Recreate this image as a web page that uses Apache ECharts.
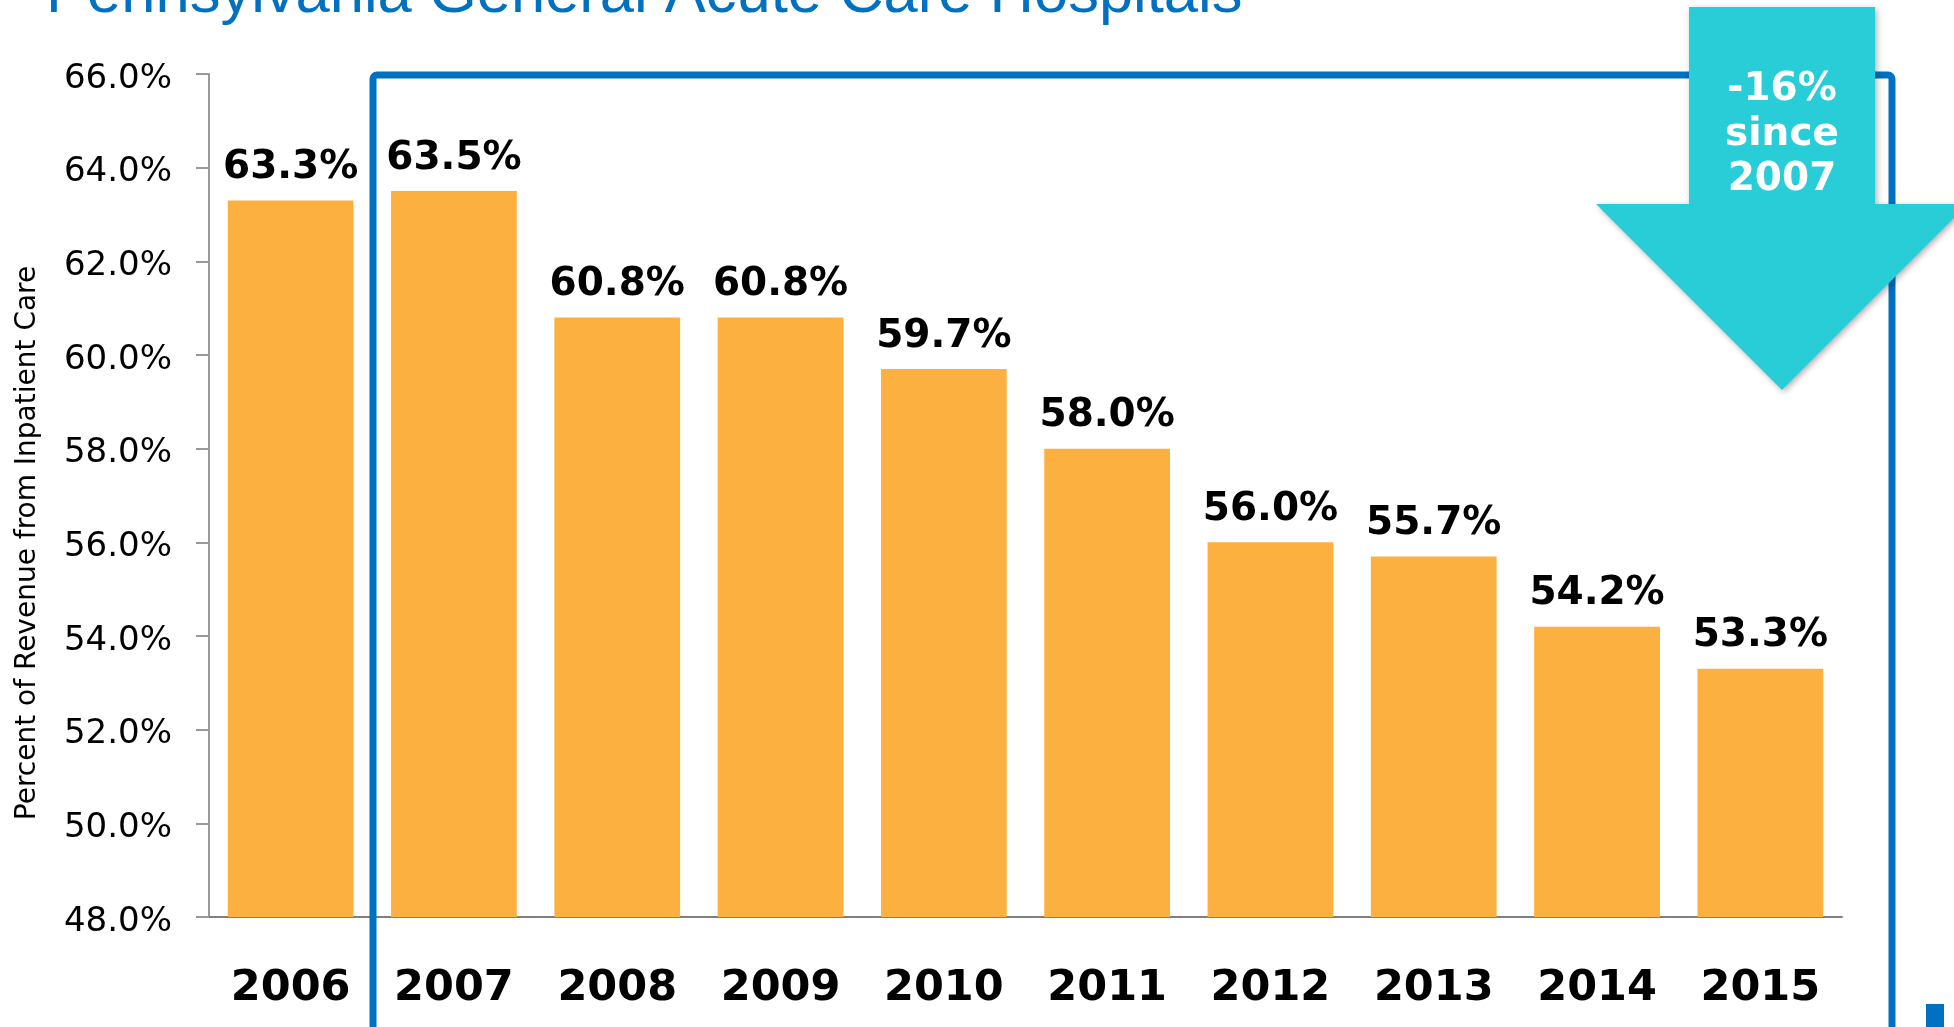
<!DOCTYPE html>
<html lang="en">
<head>
    <meta charset="UTF-8">
    <title>Inpatient revenue share</title>
    <script src="https://cdn.jsdelivr.net/npm/echarts@6/dist/echarts.min.js"></script>
    <style>
        html, body { margin: 0; padding: 0; background: #fff; }
        #main { width: 1954px; height: 1027px; }
    </style>
</head>
<body>
<div id="main"></div>
<script>
    var years = ['2006', '2007', '2008', '2009', '2010', '2011', '2012', '2013', '2014', '2015'];
    var inpatientShare = [63.3, 63.5, 60.8, 60.8, 59.7, 58.0, 56.0, 55.7, 54.2, 53.3];
    var yTicks = { min: 48, max: 66, step: 2 };

    var blue = '#0070C0';
    var teal = '#29CDD7';

    var myChart = echarts.init(document.getElementById('main'));
    var option = {
        animation: false,
        grid: { left: 209, right: 112, top: 74, bottom: 110 },
        xAxis: {
            type: 'category',
            data: years,
            axisLine: { lineStyle: { color: '#7f7f7f', width: 2 } },
            axisTick: { length: 15, lineStyle: { color: '#555', width: 2 } },
            axisLabel: {
                margin: 50,
                color: '#000',
                fontFamily: 'DejaVu Sans',
                fontWeight: 'bold',
                fontSize: 43
            }
        },
        yAxis: {
            type: 'value',
            min: yTicks.min,
            max: yTicks.max,
            interval: yTicks.step,
            splitLine: { show: false },
            axisLine: { show: true, lineStyle: { color: '#999', width: 2 } },
            axisTick: { show: true, length: 13, lineStyle: { color: '#999', width: 2 } },
            axisLabel: {
                margin: 37,
                verticalAlign: 'top',
                lineHeight: 10,
                color: '#000',
                fontFamily: 'DejaVu Sans',
                fontSize: 34,
                formatter: function (v) { return v.toFixed(1) + '%'; }
            }
        },
        series: [
            {
                type: 'bar',
                data: inpatientShare,
                barCategoryGap: '23%',
                itemStyle: { color: '#FBB040' },
                label: {
                    show: true,
                    position: 'top',
                    distance: 13,
                    color: '#000',
                    fontFamily: 'DejaVu Sans',
                    fontWeight: 'bold',
                    fontSize: 39,
                    formatter: function (p) { return p.value.toFixed(1) + '%'; }
                }
            }
        ],
        graphic: [
            {
                type: 'text',
                z: 10,
                style: {
                    text: 'Pennsylvania General Acute Care Hospitals',
                    x: 46, y: -5,
                    verticalAlign: 'middle',
                    font: '61.5px "Liberation Sans"',
                    fill: blue
                }
            },
            {
                type: 'text',
                z: 10,
                rotation: Math.PI / 2,
                x: 28, y: 543,
                style: {
                    text: 'Percent of Revenue from Inpatient Care',
                    align: 'center',
                    verticalAlign: 'middle',
                    font: '28px "DejaVu Sans"',
                    fill: '#000'
                }
            },
            {
                type: 'rect',
                z: 5,
                shape: { x: 373, y: 75, width: 1519, height: 965, r: 4 },
                style: { fill: null, stroke: blue, lineWidth: 7 }
            },
            {
                type: 'rect',
                z: 5,
                shape: { x: 1926, y: 1004, width: 18, height: 30 },
                style: { fill: blue }
            },
            {
                type: 'polygon',
                z: 20,
                shape: {
                    points: [[1689, 7], [1875, 7], [1875, 204], [1968, 204], [1782, 390], [1596, 204], [1689, 204]]
                },
                style: {
                    fill: teal,
                    shadowBlur: 6,
                    shadowOffsetX: 2,
                    shadowOffsetY: 2,
                    shadowColor: 'rgba(0,0,0,0.3)'
                }
            },
            {
                type: 'text',
                z: 30,
                style: {
                    text: '-16%\nsince\n2007',
                    x: 1782, y: 135,
                    align: 'center',
                    verticalAlign: 'middle',
                    lineHeight: 45,
                    font: 'bold 39px "DejaVu Sans"',
                    fill: '#fff'
                }
            }
        ]
    };
    myChart.setOption(option);
</script>
</body>
</html>
